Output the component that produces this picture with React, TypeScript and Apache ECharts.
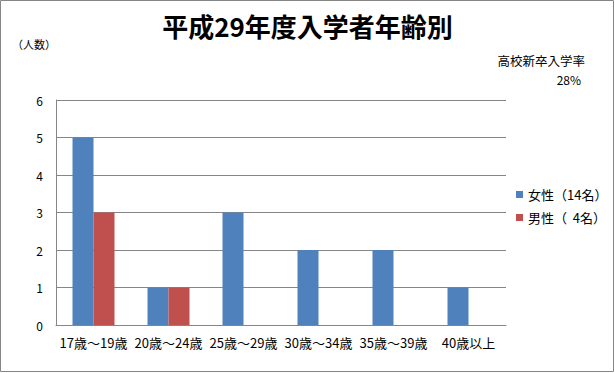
import React, { useEffect, useRef } from "react";
import * as echarts from "echarts";

const categories = ["17歳～19歳", "20歳～24歳", "25歳～29歳", "30歳～34歳", "35歳～39歳", "40歳以上"];
const femaleValues = [5, 1, 3, 2, 2, 1];
const maleValues = [3, 1, 0, 0, 0, 0];
const seriesNames = ["女性（14名）", "男性（  4名）"];
const titleText = "平成29年度入学者年齢別";
const yUnitText = "（人数）";
const rateLabel = "高校新卒入学率";
const rateValue = "28%";

const FONT = "'Noto Sans CJK JP', 'Noto Sans', sans-serif";

export default function App() {
  const ref = useRef<HTMLDivElement>(null);
  useEffect(() => {
    document.body.style.margin = "0";
    const chart = echarts.init(ref.current!, undefined, { renderer: "svg" });
    chart.setOption({
      animation: false,
      backgroundColor: "#ffffff",
      textStyle: { fontFamily: FONT },
      title: {
        text: titleText,
        left: "center",
        top: 7,
        textStyle: { fontFamily: FONT, fontSize: 26, fontWeight: "bold", color: "#000" },
      },
      legend: {
        orient: "vertical",
        left: 511,
        top: 183,
        itemWidth: 7,
        itemHeight: 7,
        itemGap: 10,
        itemStyle: { borderWidth: 0 },
        icon: "rect",
        textStyle: { fontFamily: FONT, fontSize: 13, color: "#000" },
        data: seriesNames,
      },
      grid: { left: 56, right: 109, top: 100, bottom: 48, containLabel: false },
      xAxis: {
        type: "category",
        data: categories,
        axisLine: { show: true, lineStyle: { color: "#868686" } },
        axisTick: { show: false },
        axisLabel: { fontFamily: FONT, fontSize: 13, color: "#000", margin: 11, interval: 0 },
      },
      yAxis: {
        type: "value",
        min: 0,
        max: 6,
        interval: 1,
        axisLine: { show: true, lineStyle: { color: "#868686" } },
        axisTick: { show: false },
        splitLine: { show: true, lineStyle: { color: "#868686" } },
        axisLabel: { fontFamily: FONT, fontSize: 12, color: "#000", margin: 13 },
      },
      series: [
        {
          name: seriesNames[0],
          type: "bar",
          data: femaleValues,
          barWidth: 21,
          barGap: "0%",
          itemStyle: { color: "#4F81BD" },
        },
        {
          name: seriesNames[1],
          type: "bar",
          data: maleValues,
          barWidth: 21,
          barGap: "0%",
          itemStyle: { color: "#C0504D" },
        },
      ],
      graphic: [
        {
          type: "rect",
          shape: { x: 0.5, y: 0.5, width: 613, height: 371 },
          style: { fill: "none", stroke: "#868686", lineWidth: 1 },
          silent: true,
        },
        {
          type: "text",
          left: 12,
          top: 38,
          style: { text: yUnitText, fontFamily: FONT, fontSize: 11, fill: "#000" },
        },
        {
          type: "text",
          right: 30,
          top: 54,
          style: { text: rateLabel, fontFamily: FONT, fontSize: 12.5, fill: "#000" },
        },
        {
          type: "text",
          right: 34,
          top: 73,
          style: { text: rateValue, fontFamily: FONT, fontSize: 12, fill: "#000" },
        },
      ],
    });
    return () => chart.dispose();
  }, []);
  return (
    <div
      ref={ref}
      style={{ position: "absolute", left: 0, top: 0, width: 615, height: 373 }}
    />
  );
}
